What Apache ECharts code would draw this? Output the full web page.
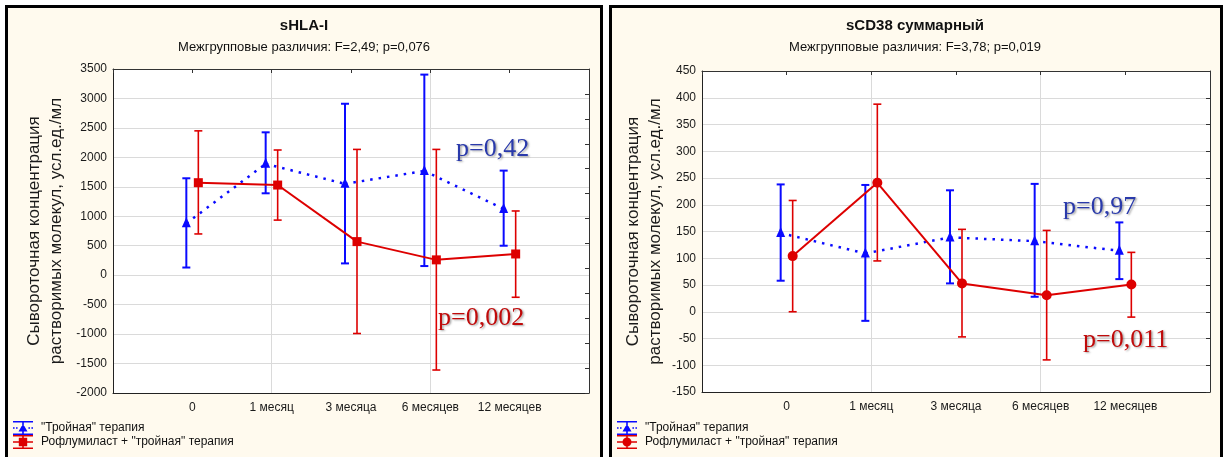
<!DOCTYPE html>
<html>
<head>
<meta charset="utf-8">
<script src="https://cdn.jsdelivr.net/npm/echarts@6/dist/echarts.min.js"></script>
<style>
  html, body { margin: 0; padding: 0; background: #ffffff; }
  #chart { width: 1224px; height: 457px; }
</style>
</head>
<body>
<div id="chart"></div>
<script>
// Time points of the follow-up
const categories = ['0', '1 месяц', '3 месяца', '6 месяцев', '12 месяцев'];

const TRIPLE = '"Тройная" терапия';
const ROFL = 'Рофлумиласт + "тройная" терапия';

// sHLA-I: mean and confidence limits
const tripleHlaMean = [880, 1890, 1550, 1770, 1125];
const tripleHlaLow = [130, 1390, 200, 155, 500];
const tripleHlaHigh = [1645, 2425, 2910, 3405, 1775];
const roflHlaMean = [1570, 1530, 570, 260, 360];
const roflHlaLow = [700, 935, -990, -1610, -375];
const roflHlaHigh = [2450, 2125, 2135, 2135, 1090];

// sCD38 total: mean and confidence limits
const tripleCdMean = [147, 109, 139, 132, 114];
const tripleCdLow = [58, -17, 53, 28, 61];
const tripleCdHigh = [238, 237, 227, 239, 167];
const roflCdMean = [104, 241, 53, 31, 51];
const roflCdLow = [0, 95, -47, -90, -10];
const roflCdHigh = [208, 388, 154, 152, 111];

const SANS = '"Liberation Sans", Arial, sans-serif';
const SERIF = '"Liberation Serif", "Times New Roman", serif';
const BLUE = '#0a0aff';
const RED = '#dd0000';
const PANEL_BG = '#fffaee';
const YNAME = 'Сывороточная концентрация\nрастворимых молекул, усл.ед./мл';

// Legend glyphs: whisker caps, stem, connecting line and marker
const iconTriangle = 'path://M0,0H20V1.6H0Z M0,12.4H20V14H0Z M9.2,0H10.8V14H9.2Z ' +
  'M0,6.3H1.6V7.7H0Z M3,6.3H4.6V7.7H3Z M15.4,6.3H17V7.7H15.4Z M18.4,6.3H20V7.7H18.4Z ' +
  'M10,2.8L14.5,10.5H5.5Z';
const iconSquare = 'path://M0,0H20V1.6H0Z M0,12.4H20V14H0Z M9.2,0H10.8V14H9.2Z ' +
  'M0,6.2H20V7.8H0Z M5.8,2.8H14.2V11.2H5.8Z';
const iconCircle = 'path://M0,0H20V1.6H0Z M0,12.4H20V14H0Z M9.2,0H10.8V14H9.2Z ' +
  'M0,6.2H20V7.8H0Z M14.5,7A4.5,4.5,0,1,1,5.5,7A4.5,4.5,0,1,1,14.5,7Z';

function groupSeries(name, axisIdx, means, lows, highs, st) {
  const data = means.map((m, i) => [i + 1, m, lows[i], highs[i]]);
  return {
    type: 'custom',
    name: name,
    xAxisIndex: axisIdx * 3,
    yAxisIndex: axisIdx * 2,
    data: data,
    itemStyle: { color: st.color },
    encode: { x: 0, y: [1, 2, 3] },
    clip: false,
    renderItem: function (params, api) {
      const i = params.dataIndex;
      const xv = api.value(0);
      const c = api.coord([xv, api.value(1)]);
      const lo = api.coord([xv, api.value(2)]);
      const hi = api.coord([xv, api.value(3)]);
      const px = c[0] + st.dx;
      const children = [];
      if (i < data.length - 1) {
        const nx = data[i + 1];
        const nc = api.coord([nx[0], nx[1]]);
        children.push({
          type: 'line',
          shape: { x1: px, y1: c[1], x2: nc[0] + st.dx, y2: nc[1] },
          style: { stroke: st.color, lineWidth: st.lineWidth, lineDash: st.dash || null, lineCap: 'butt' }
        });
      }
      const ew = st.errWidth;
      children.push({ type: 'line', shape: { x1: px, y1: hi[1], x2: px, y2: lo[1] },
        style: { stroke: st.color, lineWidth: ew } });
      children.push({ type: 'line', shape: { x1: px - 4, y1: hi[1], x2: px + 4, y2: hi[1] },
        style: { stroke: st.color, lineWidth: ew } });
      children.push({ type: 'line', shape: { x1: px - 4, y1: lo[1], x2: px + 4, y2: lo[1] },
        style: { stroke: st.color, lineWidth: ew } });
      if (st.marker === 'triangle') {
        children.push({ type: 'polygon',
          shape: { points: [[px, c[1] - 6], [px + 4.5, c[1] + 4], [px - 4.5, c[1] + 4]] },
          style: { fill: st.color } });
      } else if (st.marker === 'square') {
        children.push({ type: 'rect', shape: { x: px - 4.5, y: c[1] - 4.5, width: 9, height: 9 },
          style: { fill: st.color } });
      } else {
        children.push({ type: 'circle', shape: { cx: px, cy: c[1], r: 5 },
          style: { fill: st.color } });
      }
      return { type: 'group', children: children };
    }
  };
}

function axesFor(gridIndex, yMin, yMax, yInt, rightRange, rightInt, nameGap) {
  const xs = [
    { // bottom axis with time point labels
      type: 'value', gridIndex: gridIndex, min: 0, max: 6, interval: 1, position: 'bottom',
      axisLine: { show: true, onZero: false, lineStyle: { color: '#222', width: 1 } },
      axisTick: { show: false },
      splitLine: { show: false },
      axisLabel: {
        margin: 9, fontFamily: SANS, fontSize: 12, color: '#1a1a1a',
        formatter: v => (v >= 1 && v <= 5) ? categories[v - 1] : ''
      }
    },
    { // top frame with inward ticks
      type: 'value', gridIndex: gridIndex, min: 0, max: 6, interval: 1, position: 'top',
      axisLine: { show: true, onZero: false, lineStyle: { color: '#333', width: 1 } },
      axisTick: { show: true, inside: true, length: 4, lineStyle: { color: '#333' } },
      axisLabel: { show: false }, splitLine: { show: false }
    },
    { // vertical grid lines
      type: 'value', gridIndex: gridIndex, min: 0, max: 6, interval: 2, position: 'bottom',
      axisLine: { show: false, onZero: false }, axisTick: { show: false }, axisLabel: { show: false },
      splitLine: { show: true, lineStyle: { color: '#dadada', width: 1 } }
    }
  ];
  const ys = [
    {
      type: 'value', gridIndex: gridIndex, min: yMin, max: yMax, interval: yInt, position: 'left',
      axisLine: { show: true, onZero: false, lineStyle: { color: '#222', width: 1 } },
      axisTick: { show: false },
      axisLabel: { margin: 6, fontFamily: SANS, fontSize: 12, color: '#1a1a1a', formatter: v => String(v) },
      splitLine: { show: true, lineStyle: { color: '#dadada', width: 1 } },
      name: YNAME, nameLocation: 'middle', nameRotate: 90,
      nameGap: nameGap,
      nameTextStyle: { fontFamily: SANS, fontSize: 17, lineHeight: 22, color: '#1a1a1a', align: 'center' }
    },
    {
      type: 'value', gridIndex: gridIndex, min: rightRange[0], max: rightRange[1], interval: rightInt, position: 'right',
      axisLine: { show: true, onZero: false, lineStyle: { color: '#333', width: 1 } },
      axisTick: { show: true, inside: true, length: 4, lineStyle: { color: '#333' } },
      axisLabel: { show: false }, splitLine: { show: false }
    }
  ];
  return { xs, ys };
}

const a0 = axesFor(0, -2000, 3500, 500, [0, 13], 1, 46);
const a1 = axesFor(1, -150, 450, 50, [-150, 450], 50, 36);

function pText(text, x, y, color) {
  return {
    type: 'text', x: x, y: y, z: 50,
    style: {
      text: text, fill: color, font: '26px ' + SERIF,
      textAlign: 'left', textVerticalAlign: 'middle',
      textShadowColor: 'rgba(60,60,60,0.45)', textShadowBlur: 2,
      textShadowOffsetX: 1.5, textShadowOffsetY: 1.5
    }
  };
}

function headText(text, x, y, bold, size) {
  return {
    type: 'text', x: x, y: y, z: 50,
    style: {
      text: text, fill: '#111', font: (bold ? 'bold ' : '') + size + 'px ' + SANS,
      textAlign: 'center', textVerticalAlign: 'middle'
    }
  };
}

function legendItem(left, top, name, icon) {
  return {
    left: left, top: top, orient: 'horizontal', itemWidth: 20, itemHeight: 14, itemGap: 0,
    padding: 0, selectedMode: false,
    textStyle: { fontFamily: SANS, fontSize: 12, color: '#111', padding: [0, 0, 0, 3] },
    data: [{ name: name, icon: icon }]
  };
}

const option = {
  backgroundColor: '#ffffff',
  animation: false,
  grid: [
    { left: 113, top: 69, width: 476, height: 324, show: true, backgroundColor: '#ffffff',
      borderWidth: 0, outerBoundsMode: 'none', containLabel: false },
    { left: 702, top: 71, width: 508, height: 321, show: true, backgroundColor: '#ffffff',
      borderWidth: 0, outerBoundsMode: 'none', containLabel: false }
  ],
  xAxis: a0.xs.concat(a1.xs),
  yAxis: a0.ys.concat(a1.ys),
  legend: [
    legendItem(13, 421, TRIPLE, iconTriangle),
    legendItem(13, 435, ROFL, iconSquare),
    legendItem(617, 421, TRIPLE, iconTriangle),
    legendItem(617, 435, ROFL, iconCircle)
  ],
  graphic: [
    { type: 'rect', z: -100, silent: true, shape: { x: 6.5, y: 6.5, width: 595, height: 460 },
      style: { fill: PANEL_BG, stroke: '#000', lineWidth: 3 } },
    { type: 'rect', z: -100, silent: true, shape: { x: 610.5, y: 6.5, width: 611, height: 460 },
      style: { fill: PANEL_BG, stroke: '#000', lineWidth: 3 } },
    headText('sHLA-I', 304, 26, true, 15),
    headText('Межгрупповые различия: F=2,49; p=0,076', 304, 47, false, 13),
    headText('sCD38 суммарный', 915, 26, true, 15),
    headText('Межгрупповые различия: F=3,78; p=0,019', 915, 47, false, 13),
    pText('p=0,42', 456, 149, '#2a3aab'),
    pText('p=0,002', 438, 318, '#c00a0a'),
    pText('p=0,97', 1063, 207, '#2a3aab'),
    pText('p=0,011', 1083, 340, '#c00a0a')
  ],
  series: [
    groupSeries(TRIPLE, 0, tripleHlaMean, tripleHlaLow, tripleHlaHigh,
      { color: BLUE, dx: -6, lineWidth: 2.5, dash: [2.5, 6], errWidth: 2, marker: 'triangle' }),
    groupSeries(ROFL, 0, roflHlaMean, roflHlaLow, roflHlaHigh,
      { color: RED, dx: 6, lineWidth: 2, errWidth: 1.6, marker: 'square' }),
    groupSeries(TRIPLE, 1, tripleCdMean, tripleCdLow, tripleCdHigh,
      { color: BLUE, dx: -6, lineWidth: 2.5, dash: [2.5, 6], errWidth: 2, marker: 'triangle' }),
    groupSeries(ROFL, 1, roflCdMean, roflCdLow, roflCdHigh,
      { color: RED, dx: 6, lineWidth: 2, errWidth: 1.6, marker: 'circle' })
  ]
};

const chart = echarts.init(document.getElementById('chart'), null, { renderer: 'canvas' });
chart.setOption(option);
</script>
</body>
</html>
